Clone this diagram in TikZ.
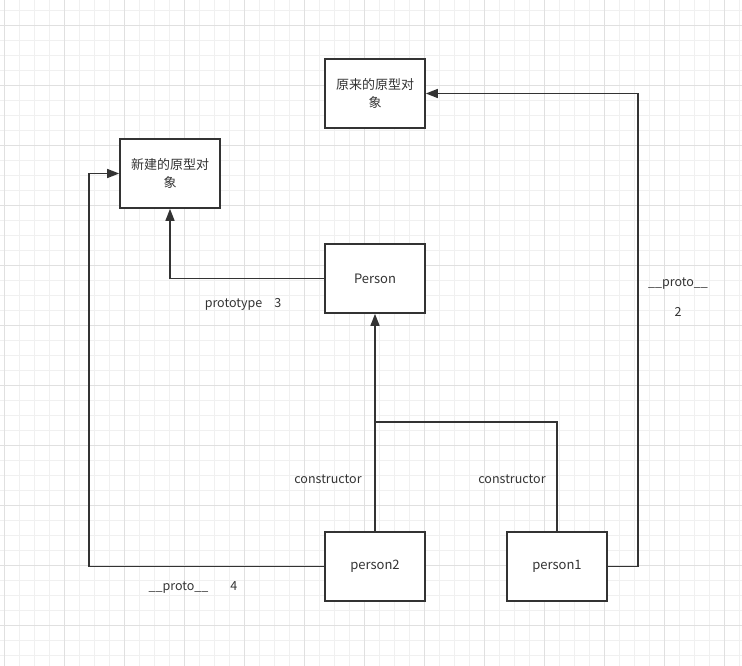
\documentclass[tikz,border=0pt]{standalone}
\usepackage{fontspec}
\setmainfont{Noto Sans CJK SC}
\usetikzlibrary{arrows.meta}
\definecolor{ink}{HTML}{333333}
\definecolor{gridminor}{HTML}{F0F0F0}
\definecolor{gridmajor}{HTML}{E0E0E0}
\tikzset{
  box/.style={draw=ink, line width=1.7pt, fill=white, minimum width=100pt, minimum height=69pt, inner sep=0pt, align=center, text=ink, font=\fontsize{13}{18}\selectfont},
  conn/.style={draw=ink, line width=1.6pt},
  arr/.style={conn, -{Triangle[length=12pt,width=9pt]}},
  lbl/.style={text=ink, inner sep=0pt, font=\fontsize{12.5}{18}\selectfont}
}
\begin{document}
\begin{tikzpicture}[x=1pt,y=-1pt]
\useasboundingbox (0,0) rectangle (742,666);
\fill[white] (0,0) rectangle (742,666);
\foreach \i in {0,...,49} {\draw[gridminor, line width=0.8pt] ({4+15*\i},0) -- ({4+15*\i},666);}
\foreach \i in {0,...,44} {\draw[gridminor, line width=0.8pt] (0,{10+15*\i}) -- (742,{10+15*\i});}
\foreach \i in {0,...,12} {\draw[gridmajor, line width=0.8pt] ({4+60*\i},0) -- ({4+60*\i},666);}
\foreach \i in {0,...,10} {\draw[gridmajor, line width=0.8pt] (0,{25+60*\i}) -- (742,{25+60*\i});}

\node[box] (orig) at (375,93.5) {原来的原型对\\象};
\node[box] (new) at (170,173.5) {新建的原型对\\象};
\node[box] (person) at (375,278.5) {Person};
\node[box] (p2) at (375,566.5) {person2};
\node[box] (p1) at (557,566.5) {person1};
\coordinate (j) at (375,422);

\draw[arr] (p1.east) -- ++(30,0) |- (orig.east);
\draw[arr] (person.west) -| (new.south);
\draw[arr] (p2.north) -- (person.south);
\draw[conn] (p1.north) |- (j);
\draw[arr] (p2.west) -- ++(-235,0) |- (new.west);

\node[lbl] (l3) at (243,304) {prototype\hspace{12pt}3};
\node[lbl] (l2a) at (678,284) {\_\_proto\_\_};
\node[lbl] (l2b) at (678,312) {2};
\node[lbl] (c2) at (328,479) {constructor};
\node[lbl] (c1) at (512,479) {constructor};
\node[lbl] (l4) at (193,587) {\_\_proto\_\_\hspace{22pt}4};
\end{tikzpicture}
\end{document}
